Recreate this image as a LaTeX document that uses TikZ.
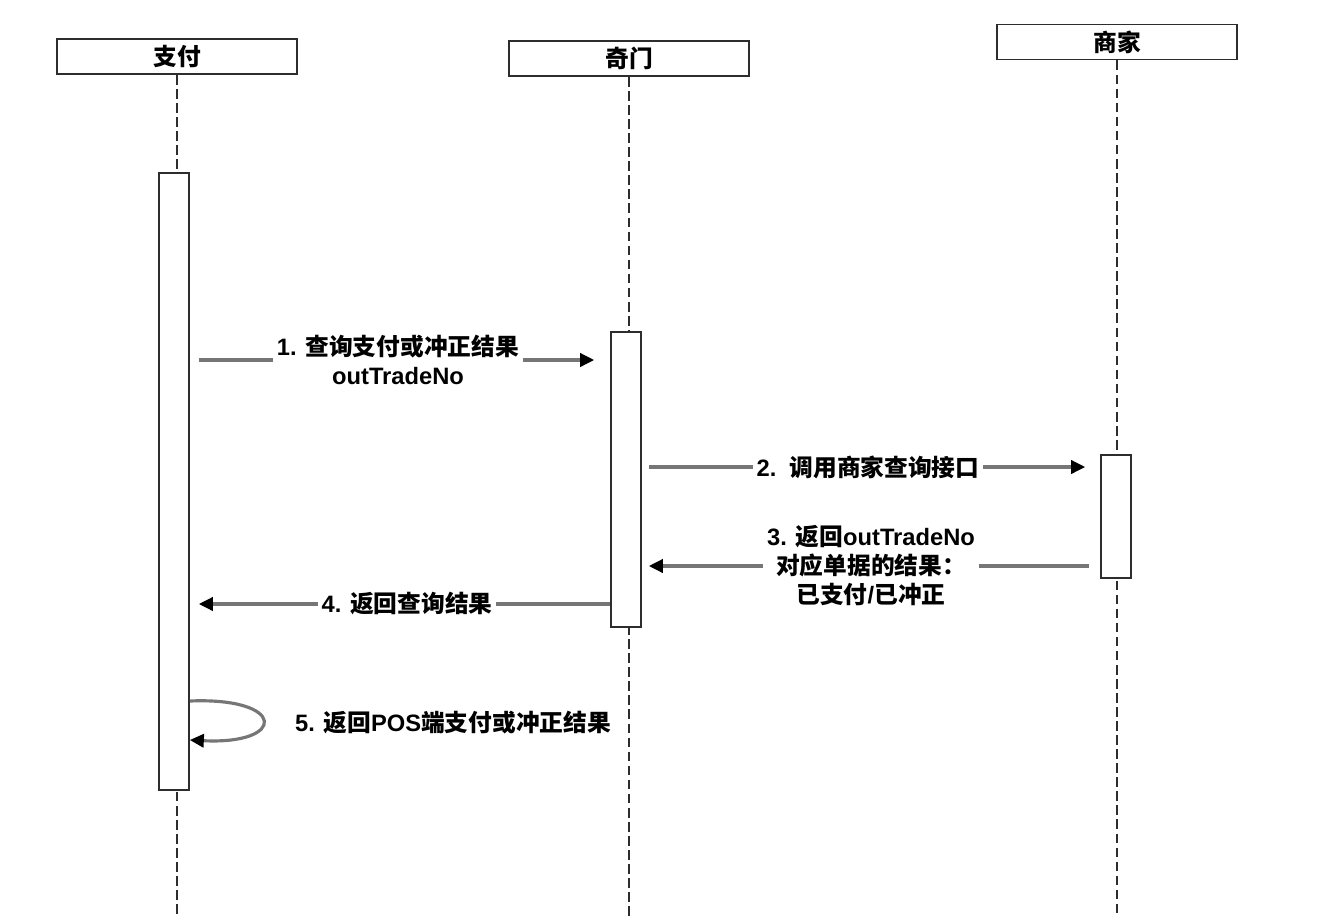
\documentclass[tikz,border=0pt]{standalone}
\usepackage{fontspec}
\setmainfont{Liberation Sans}
\newfontfamily\cjk{Noto Sans CJK SC}
\usetikzlibrary{arrows.meta,positioning}
\definecolor{linegray}{RGB}{118,118,118}
\definecolor{boxgray}{RGB}{45,45,45}

\begin{document}
\begin{tikzpicture}[
  x=0.02cm, y=-0.02cm,
  font=\fontsize{13.5}{16.5}\selectfont\bfseries,
  actor/.style = {
    rectangle, draw=boxgray, line width=1.1pt, fill=white,
    minimum width=4.8cm, minimum height=0.7cm, inner sep=0pt
  },
  actbar/.style = {
    rectangle, draw=boxgray, line width=0.9pt, fill=white,
    minimum width=0.6cm, inner sep=0pt
  },
  life/.style = {boxgray, line width=0.85pt, dash pattern=on 5.5pt off 2.5pt},
  msg/.style = {linegray, line width=1.8pt},
  msgarr/.style = {msg, -{Triangle[length=8pt,width=7.5pt,color=black]}},
  lbl/.style = {align=center, inner sep=2pt}
]
  \useasboundingbox (0,0) rectangle (1328,916);

  % participants
  \node[actor] (pay)  at (177,56.5) {\cjk 支付};
  \node[actor] (qm)   at (629,58.5) {\cjk 奇门};
  \node[actor] (shop) at (1117,42)  {\cjk 商家};

  \draw[life] (pay.south)  -- (pay.south |- 0,916);
  \draw[life] (qm.south)   -- (qm.south |- 0,916);
  \draw[life] (shop.south) -- (shop.south |- 0,916);

  % activations
  \node[actbar, minimum height=12.34cm] (payact)  at (174,481.5)  {};
  \node[actbar, minimum height=5.9cm]   (qmact)   at (626,479.5)  {};
  \node[actbar, minimum height=2.46cm]  (shopact) at (1116,516.5) {};

  % labels
  \node[lbl] (m1) at (398,360) {1. {\cjk 查询支付或冲正结果}\\outTradeNo};
  \node[lbl] (m2) at (868,467) {2.\ \ {\cjk 调用商家查询接口}};
  \node[lbl] (m3) at (871,566) {3. {\cjk 返回}outTradeNo\\{\cjk 对应单据的结果：}\\{\cjk 已支付}/{\cjk 已冲正}};
  \node[lbl] (m4) at (407,604) {4. {\cjk 返回查询结果}};
  \node[lbl] (m5) at (453,723) {5. {\cjk 返回}POS{\cjk 端支付或冲正结果}};

  % messages
  \draw[msg, shorten <=0.18cm] (payact.east |- m1) -- (m1.west);
  \draw[msgarr, shorten >=0.32cm] (m1.east) -- (qmact.west |- m1);

  \draw[msg, shorten <=0.14cm] (qmact.east |- m2) -- (m2.west);
  \draw[msgarr, shorten >=0.3cm] (m2.east) -- (shopact.west |- m2);

  \draw[msg, shorten <=0.22cm] (shopact.west |- m3) -- (m3.east);
  \draw[msgarr, shorten >=0.14cm] (m3.west) -- (qmact.east |- m3);

  \draw[msg] (qmact.west |- m4) -- (m4.east);
  \draw[msgarr, shorten >=0.18cm] (m4.west) -- (payact.east |- m4);

  \draw[msgarr] (payact.east |- 0,701) .. controls (287,697) and (287,745) .. (payact.east |- 0,740);
\end{tikzpicture}
\end{document}
